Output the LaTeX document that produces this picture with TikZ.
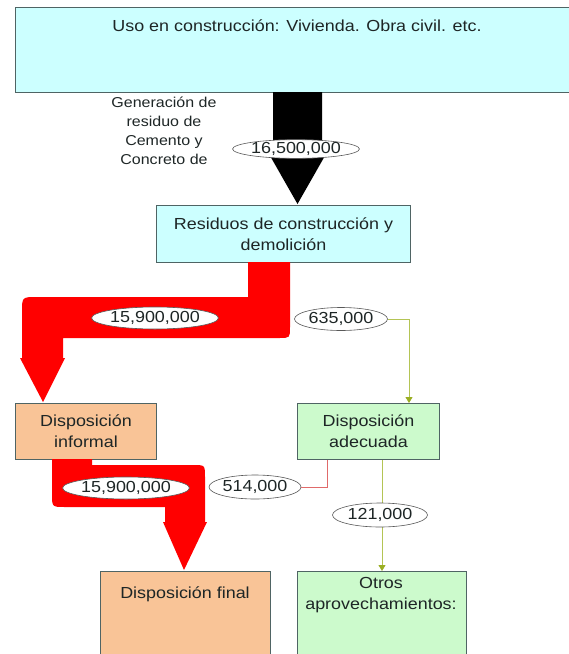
\documentclass[tikz,border=0pt]{standalone}
\usepackage{fontspec}
\setmainfont[FakeStretch=1.12]{Liberation Sans}
\usetikzlibrary{shapes.geometric,arrows.meta}

\definecolor{skyfill}{HTML}{CCFFFF}
\definecolor{peachfill}{HTML}{F9C497}
\definecolor{mintfill}{HTML}{CCFACC}
\definecolor{boxline}{HTML}{4F6464}
\definecolor{inktext}{HTML}{1E2626}
\definecolor{flowred}{HTML}{FF0000}
\definecolor{oliveline}{HTML}{B4C455}
\definecolor{olivetip}{HTML}{9AAE22}
\definecolor{thinred}{HTML}{E06A6A}

\tikzset{
  boxbase/.style={draw=boxline, line width=1pt, anchor=north west, inner sep=0pt},
  skybox/.style={boxbase, fill=skyfill},
  peachbox/.style={boxbase, fill=peachfill},
  mintbox/.style={boxbase, fill=mintfill},
  txt/.style={text=inktext, align=center, inner sep=0pt,
    font=\fontsize{16}{21}\selectfont},
  qty/.style={ellipse, draw=black!65, line width=0.6pt, fill=white,
    inner sep=0pt, text=inktext, font=\fontsize{16}{19}\selectfont},
  greenline/.style={draw=oliveline, line width=0.8pt},
  redline/.style={draw=thinred, line width=0.8pt},
  tiptri/.style={-{Triangle[length=6pt,width=7pt,fill=olivetip,color=olivetip]}}
}

\begin{document}
\begin{tikzpicture}[x=1pt,y=-1pt]
\useasboundingbox (0,0) rectangle (569,654);
\clip (0,0) rectangle (569,654);
\fill[white] (0,0) rectangle (569,654);

% boxes
\node[skybox, minimum width=562pt, minimum height=85pt] (uso) at (15,7) {};
\node[txt] (usotxt) at (297,26) {Uso en construcción: Vivienda. Obra civil. etc.};

\node[skybox, minimum width=254pt, minimum height=57pt] (res) at (156,205) {};
\node[txt] (restxt) at (res.center) {Residuos de construcción y\\demolición};

\node[peachbox, minimum width=141pt, minimum height=56pt] (inf) at (15,403) {};
\node[txt] (inftxt) at (inf.center) {Disposición\\informal};

\node[mintbox, minimum width=142pt, minimum height=56pt] (ad) at (297,403) {};
\node[txt] (adtxt) at (ad.center) {Disposición\\adecuada};

\node[peachbox, minimum width=170pt, minimum height=100pt] (fin) at (100,571) {};
\node[txt] (fintxt) at (185,594) {Disposición final};

\node[mintbox, minimum width=169pt, minimum height=100pt] (ot) at (297,571) {};
\node[txt] (ottxt) at (381,595) {Otros\\aprovechamientos:};

% side caption of the generation flow
\node[txt, font=\fontsize{14.3}{19}\selectfont] (gen) at (164,131)
  {Generación de\\residuo de\\Cemento y\\Concreto de};

% broad flow arrows
\fill[black] (273,92) -- (273,147) -- (265,147) -- (297.5,204)
  -- (330,147) -- (322,147) -- (322,92) -- cycle;

\fill[flowred] (248,262) -- (248,297) -- (37,297) .. controls (22,297) .. (22,312)
  -- (22,358) -- (20,358) -- (43,402) -- (65,358) -- (63,358) -- (63,338)
  -- (279,338) .. controls (290,338) .. (290,327) -- (290,262) -- cycle;

\fill[flowred] (52,459) -- (52,494) .. controls (52,507) .. (65,507)
  -- (165,507) -- (165,522) -- (163,522) -- (184,570) -- (207,522)
  -- (205,522) -- (205,477) .. controls (205,465) .. (193,465)
  -- (92,465) -- (92,459) -- cycle;

% thin flow from adecuada to otros
\coordinate (g1) at (409,0);
\coordinate (g2) at (327,0);
\coordinate (g3) at (382,0);
\draw[greenline, tiptri] (ad.south -| g3) -- (ot.north -| g3);

% quantity labels
\node[qty, minimum width=122pt, minimum height=16pt] (q165) at (296,149) {16,500,000};
\node[qty, minimum width=118pt, minimum height=22pt] (q159a) at (155,318) {15,900,000};
\node[qty, minimum width=93pt, minimum height=23pt] (q635) at (341,319) {635,000};
\node[qty, minimum width=122pt, minimum height=22pt] (q159b) at (126,488) {15,900,000};
\node[qty, minimum width=92pt, minimum height=24pt] (q514) at (255,487) {514,000};
\node[qty, minimum width=95pt, minimum height=24pt] (q121) at (380,515) {121,000};

% thin connectors
\draw[greenline, tiptri] (q635.east) -| (ad.north -| g1);
\draw[redline] (q514.east) -| (ad.south -| g2);
\end{tikzpicture}
\end{document}
